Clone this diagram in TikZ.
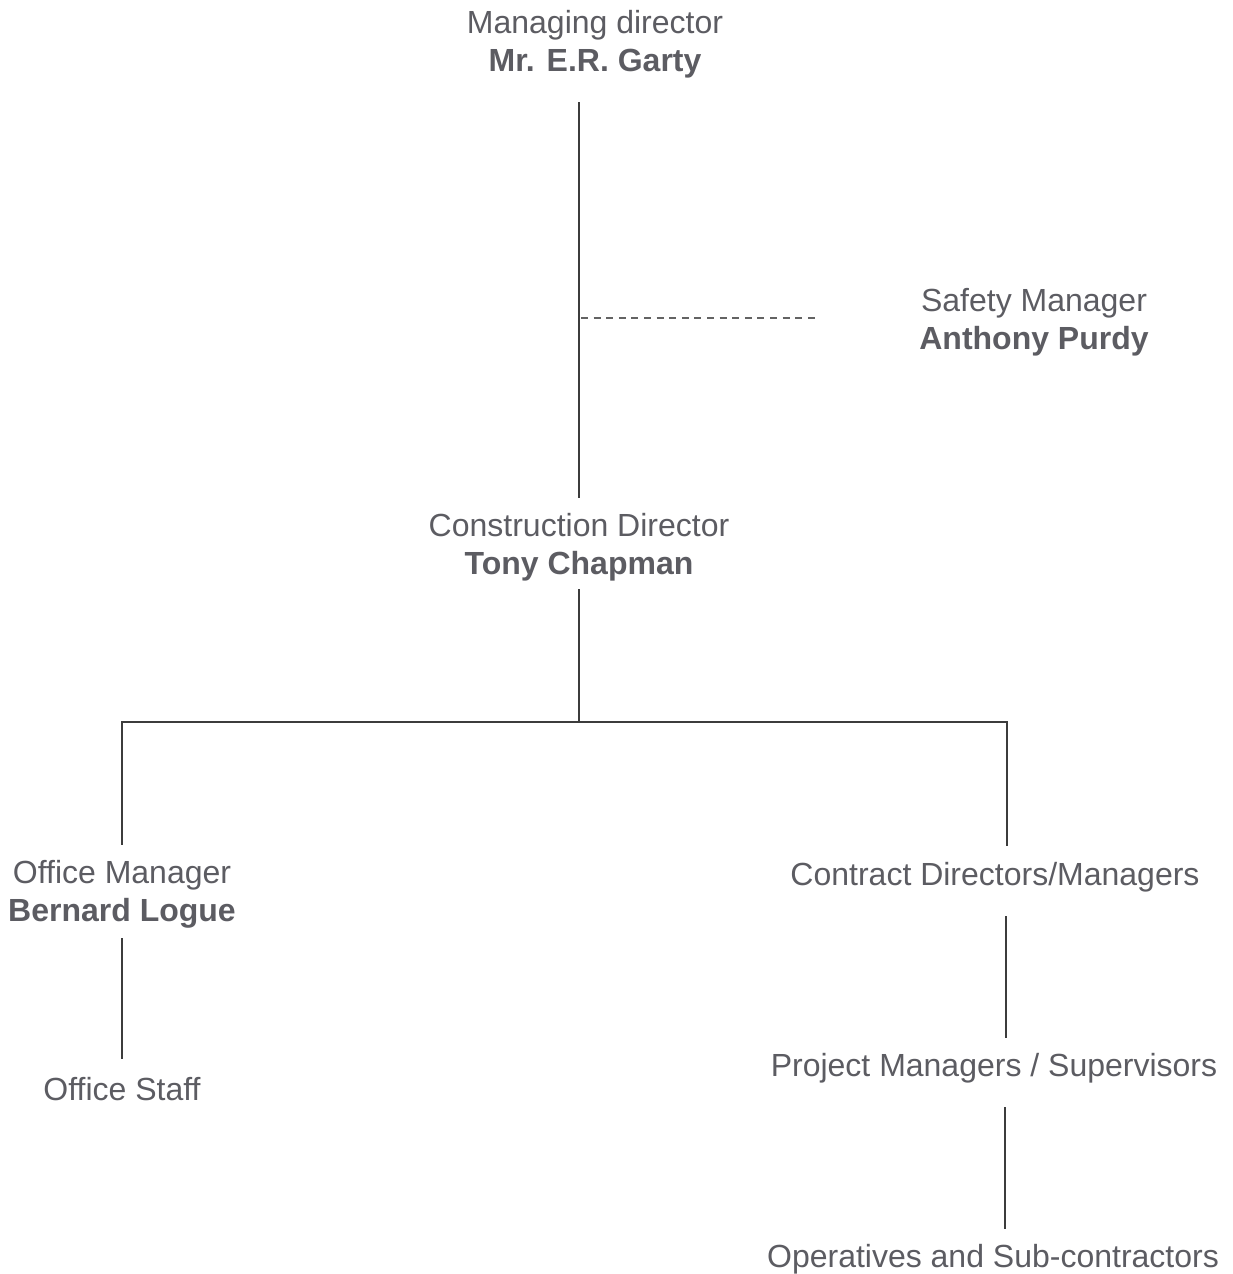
\documentclass[tikz,border=0pt]{standalone}
\usepackage{fontspec}
\setmainfont{Liberation Sans}
\usetikzlibrary{positioning}

\definecolor{textgray}{HTML}{5C5C62}
\definecolor{linegray}{HTML}{3C3C3C}

\tikzset{
  post/.style={align=center,text=textgray,inner xsep=0pt,inner ysep=5pt,
    font=\fontsize{16}{19}\selectfont},
  link/.style={draw=linegray,line width=0.7pt},
  advice/.style={draw=linegray!80,line width=0.6pt,dash pattern=on 3.5pt off 2.8pt}
}

\begin{document}
\begin{tikzpicture}[x=0.5pt,y=-0.5pt]
      % keep the page the size of the chart
      \useasboundingbox (0,0) rectangle (1232,1274);

      % the people
      \node[post] (md) at (595,44) {Managing director\\\textbf{Mr. E.R. Garty}};
      \node[post] (sm) at (1034,322) {Safety Manager\\\textbf{Anthony Purdy}};
      \node[post] (cd) at (579,547) {Construction Director\\\textbf{Tony Chapman}};
      \node[post] (om) at (122,894) {Office Manager\\\textbf{Bernard Logue}};
      \node[post] (os) at (122,1089) {Office Staff};
      \node[post] (cm) at (995,877) {Contract Directors/Managers};
      \node[post] (pm) at (994,1068) {Project Managers / Supervisors};
      \node[post] (op) at (993,1259) {Operatives and Sub-contractors};

      % junctions on the lines
      \coordinate (bus) at (579,722);
      \coordinate (tap) at (581,318);
      \coordinate (tapend) at (820,318);

      % line from the top down
      \draw[link,shorten <=7pt,shorten >=2.5pt] (md.south -| cd.north) -- (cd.north);
      \draw[advice] (tap) -- (tapend);

      % the bus under the construction director
      \draw[link,shorten <=-1pt] (cd.south) -- (bus);
      \draw[link,shorten <=2.5pt,shorten >=3pt] (om.north) -- (om.north |- bus) -- (bus -| 1007,0) -- (1007,0 |- cm.north);

      % the two branches
      \draw[link,shorten >=4pt] (om.south) -- (os.north);
      \draw[link,shorten <=7pt,shorten >=2.5pt] (cm.south -| 1006,0) -- (pm.north -| 1006,0);
      \draw[link,shorten <=7pt,shorten >=2.5pt] (pm.south -| 1005,0) -- (op.north -| 1005,0);
\end{tikzpicture}
\end{document}
